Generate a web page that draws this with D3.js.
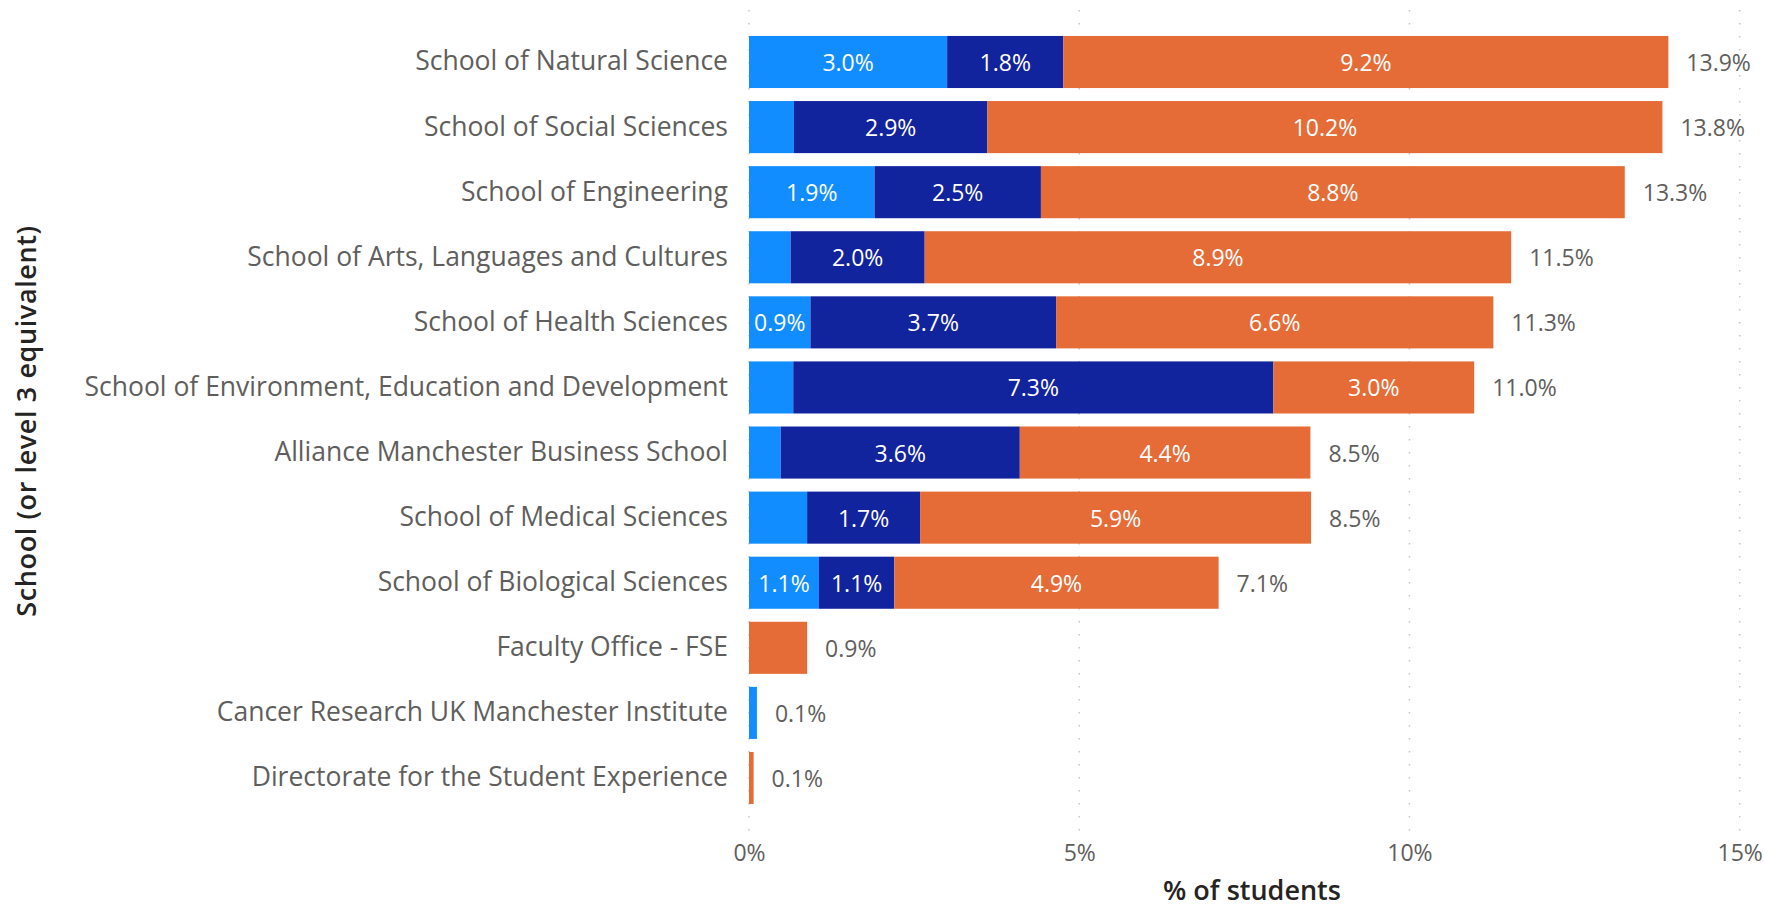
<!DOCTYPE html>
<html>
<head>
<meta charset="utf-8">
<script src="https://cdn.jsdelivr.net/npm/d3@7"></script>
<style>
  body { margin: 0; background: white; }
  text { font-family: 'Segoe UI', 'Open Sans', sans-serif; }
</style>
</head>
<body>
<div id="chart"></div>
<script>
let schools = [
  'School of Natural Science',
  'School of Social Sciences',
  'School of Engineering',
  'School of Arts, Languages and Cultures',
  'School of Health Sciences',
  'School of Environment, Education and Development',
  'Alliance Manchester Business School',
  'School of Medical Sciences',
  'School of Biological Sciences',
  'Faculty Office - FSE',
  'Cancer Research UK Manchester Institute',
  'Directorate for the Student Experience'
]

// three stacked series, % of students
let lightBlue = [3.0, 0.68, 1.90, 0.63, 0.93, 0.67, 0.48, 0.88, 1.06, 0, 0.12, 0]
let darkBlue = [1.76, 2.93, 2.52, 2.03, 3.72, 7.27, 3.62, 1.71, 1.14, 0, 0, 0]
let orange = [9.16, 10.22, 8.84, 8.88, 6.62, 3.04, 4.40, 5.92, 4.91, 0.88, 0, 0.07]

let xTicks = [0, 5, 10, 15]

let seriesNames = ['lightBlue', 'darkBlue', 'orange']
let colors = ['#118DFF', '#12239E', '#E66C37']

let width = 1765
let height = 906

let svg = d3
  .select('#chart')
  .append('svg')
  .attr('width', width)
  .attr('height', height)

let rows = schools.map((s, i) => ({
  school: s,
  lightBlue: lightBlue[i],
  darkBlue: darkBlue[i],
  orange: orange[i]
}))

let x = d3.scaleLinear().domain([0, 15]).range([749, 1739.7])

let y = d3
  .scaleBand()
  .domain(schools)
  .range([29.45, 810.55])
  .paddingInner(0.2)
  .paddingOuter(0.1)

let stack = d3.stack().keys(seriesNames)
let layers = stack(rows)

// dotted gridlines
svg
  .selectAll('.grid')
  .data(xTicks)
  .enter()
  .append('line')
  .attr('class', 'grid')
  .attr('x1', d => x(d))
  .attr('x2', d => x(d))
  .attr('y1', 10)
  .attr('y2', 832)
  .attr('stroke', '#C8C6C4')
  .attr('stroke-width', 1.5)
  .attr('stroke-dasharray', '1.5,11.5')

// bars
let layer = svg
  .selectAll('.layer')
  .data(layers)
  .enter()
  .append('g')
  .attr('class', 'layer')
  .attr('fill', (d, i) => colors[i])

layer
  .selectAll('rect')
  .data(d => d)
  .enter()
  .append('rect')
  .attr('x', d => x(d[0]))
  .attr('y', d => y(d.data.school))
  .attr('width', d => x(d[1]) - x(d[0]))
  .attr('height', y.bandwidth())

// labels inside segments, only when they fit
layer
  .selectAll('.seg-label')
  .data(d => d.filter(s => s[1] - s[0] > 0))
  .enter()
  .append('text')
  .attr('class', 'seg-label')
  .text(d => d3.format('.1f')(d[1] - d[0]) + '%')
  .attr('x', d => (x(d[0]) + x(d[1])) / 2)
  .attr('y', d => y(d.data.school) + y.bandwidth() / 2)
  .attr('text-anchor', 'middle')
  .attr('dominant-baseline', 'central')
  .attr('font-size', 23)
  .attr('fill', 'white')
  .each(function(d) {
    let w = x(d[1]) - x(d[0])
    if (this.getComputedTextLength() + 8 > w) d3.select(this).remove()
  })

// totals
svg
  .selectAll('.total')
  .data(rows)
  .enter()
  .append('text')
  .attr('class', 'total')
  .text(d => d3.format('.1f')(d.lightBlue + d.darkBlue + d.orange) + '%')
  .attr('x', d => x(d.lightBlue + d.darkBlue + d.orange) + 18)
  .attr('y', d => y(d.school) + y.bandwidth() / 2)
  .attr('dominant-baseline', 'central')
  .attr('font-size', 23)
  .attr('fill', '#605E5C')

// y axis (categories)
let yAxis = svg
  .append('g')
  .attr('transform', 'translate(749,0)')
  .call(d3.axisLeft(y).tickSize(0).tickPadding(21))

yAxis.select('.domain').remove()
yAxis
  .selectAll('text')
  .attr('font-size', 26.5)
  .attr('fill', '#605E5C')
  .attr('font-family', null)

// x axis
let xAxis = svg
  .append('g')
  .attr('transform', 'translate(0,830)')
  .call(
    d3.axisBottom(x)
      .tickValues(xTicks)
      .tickFormat(d => d + '%')
      .tickSize(0)
      .tickPadding(15)
  )

xAxis.select('.domain').remove()
xAxis
  .selectAll('text')
  .attr('font-size', 23)
  .attr('fill', '#605E5C')
  .attr('font-family', null)

// axis titles
svg
  .append('text')
  .text('% of students')
  .attr('x', 1252)
  .attr('y', 889)
  .attr('text-anchor', 'middle')
  .attr('dominant-baseline', 'central')
  .attr('font-size', 27)
  .attr('font-weight', 600)
  .attr('fill', '#252423')

svg
  .append('text')
  .text('School (or level 3 equivalent)')
  .attr('transform', 'translate(25,421) rotate(-90)')
  .attr('text-anchor', 'middle')
  .attr('dominant-baseline', 'central')
  .attr('font-size', 27)
  .attr('font-weight', 600)
  .attr('letter-spacing', 0.6)
  .attr('fill', '#252423')
</script>
</body>
</html>
